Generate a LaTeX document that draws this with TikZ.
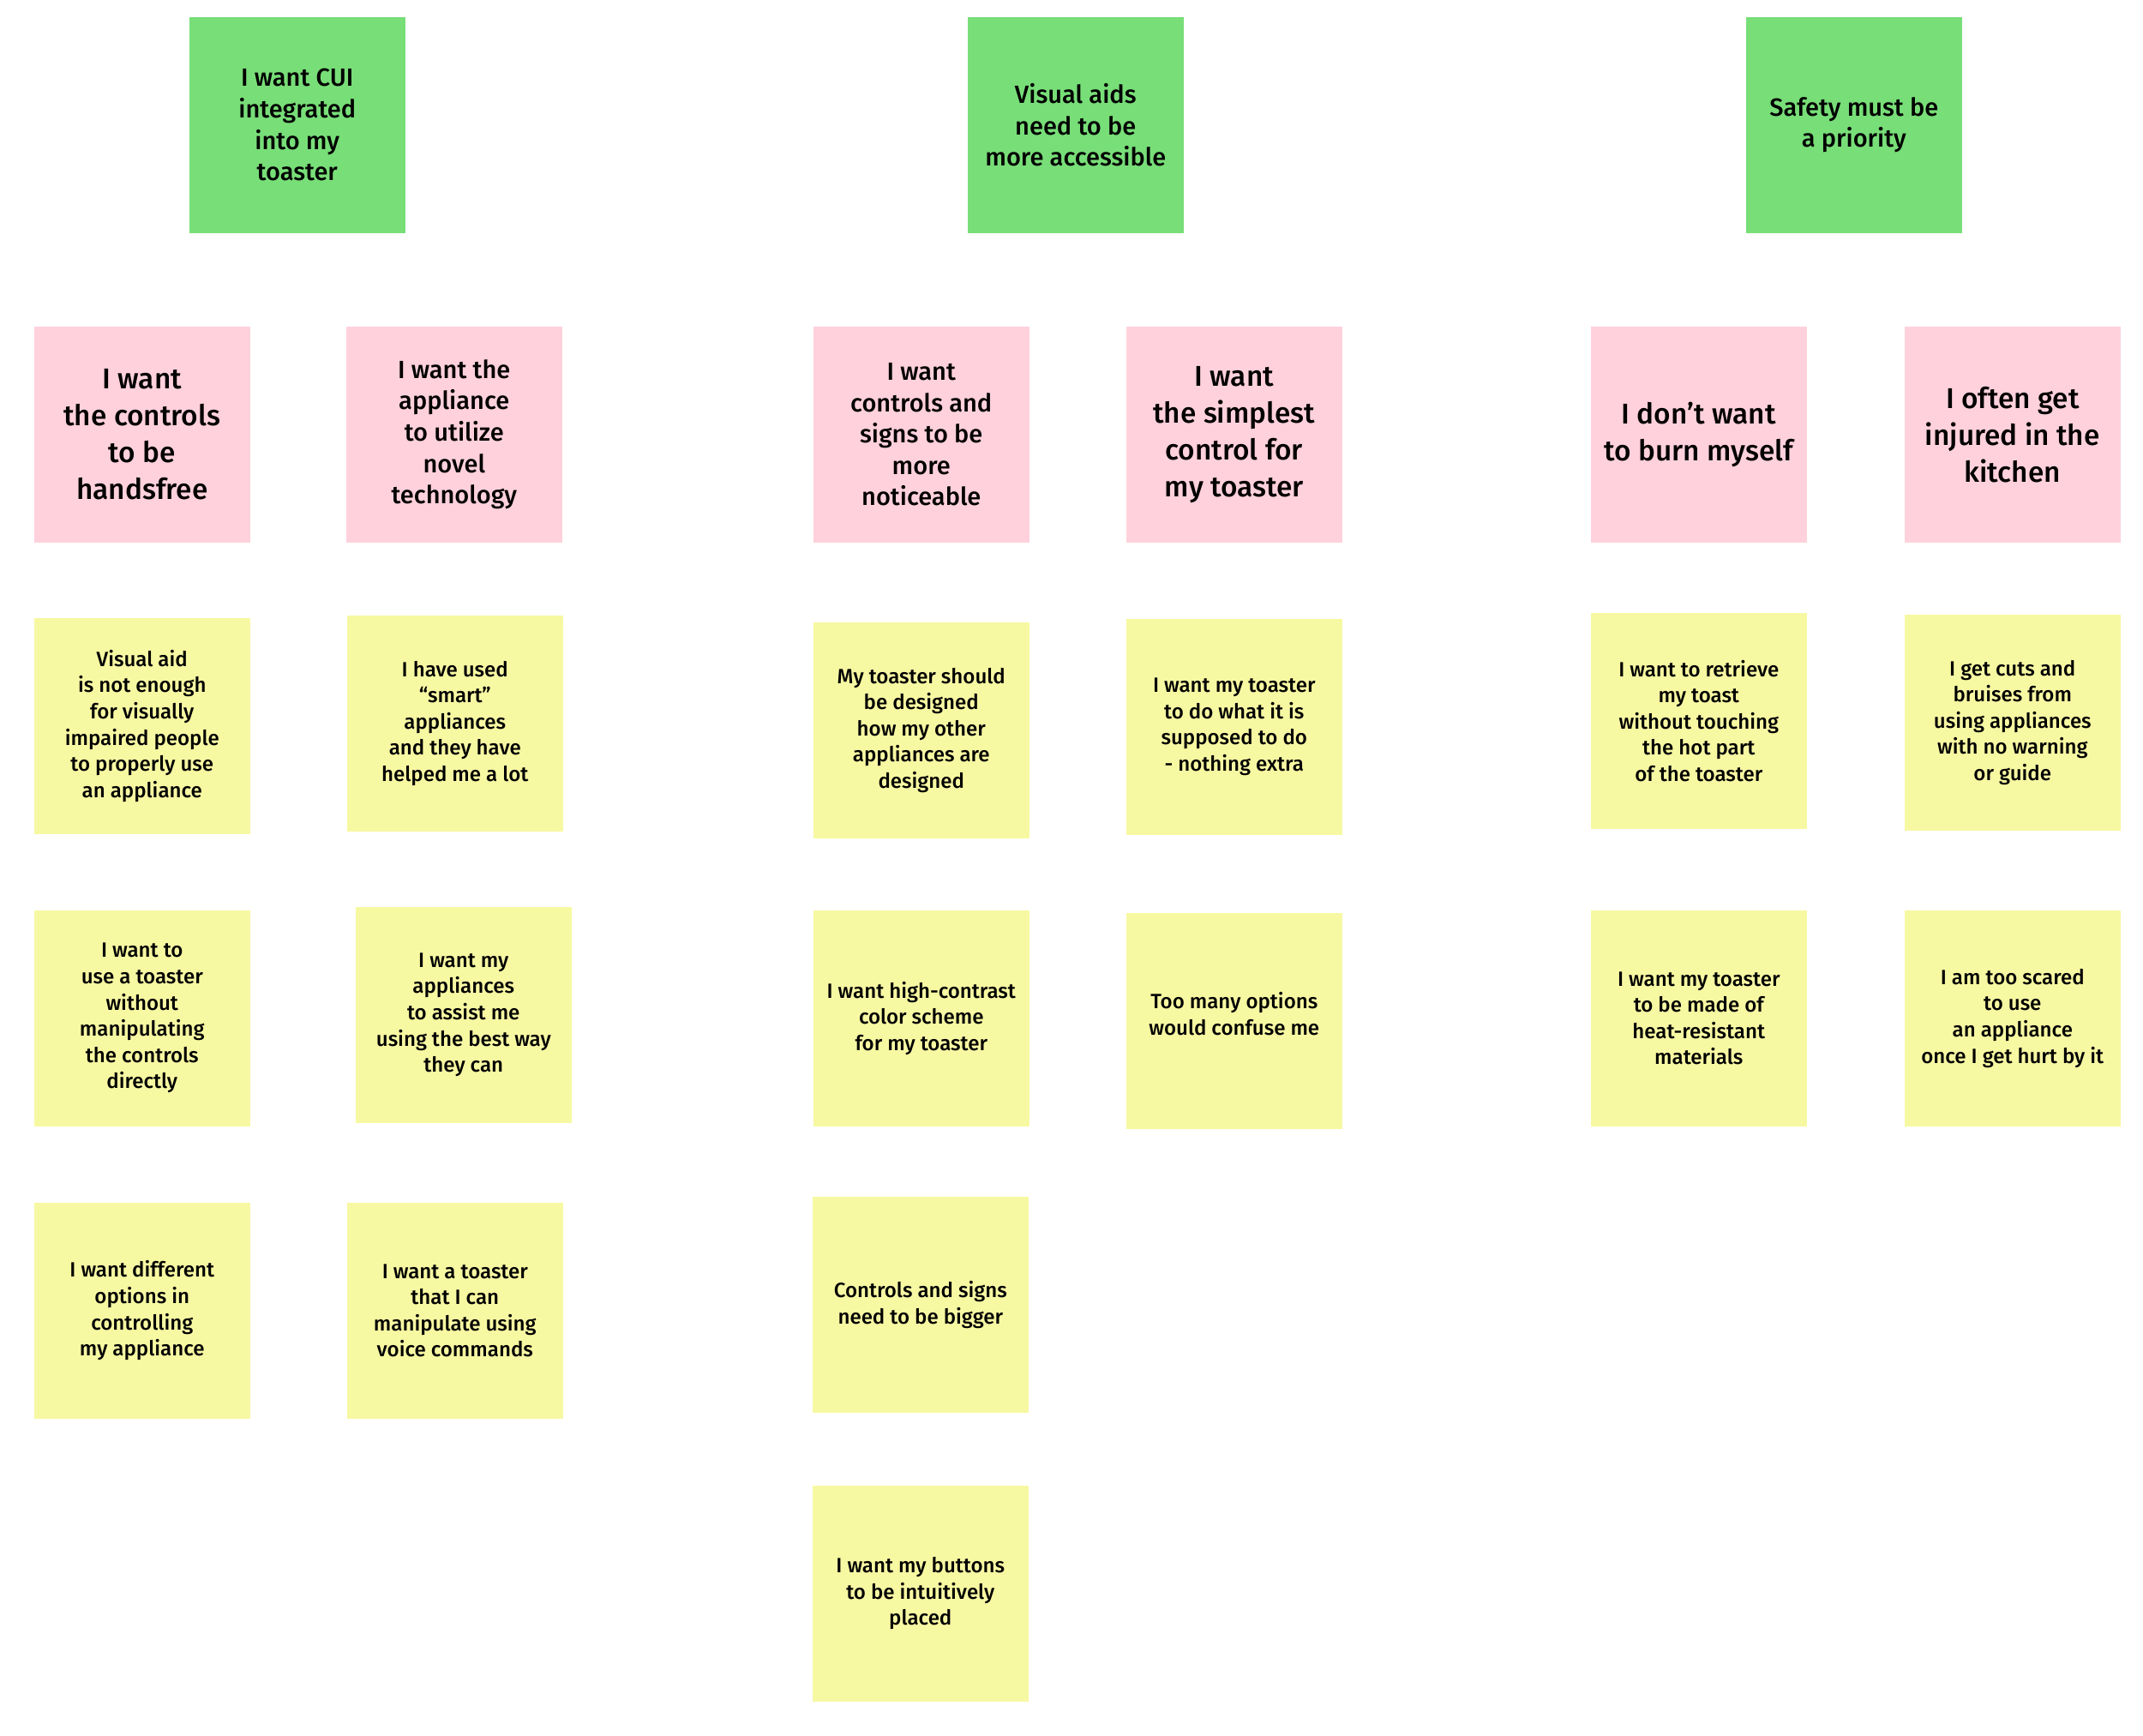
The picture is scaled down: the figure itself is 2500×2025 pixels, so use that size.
\documentclass[tikz,border=0pt]{standalone}
\usepackage{fontspec}
\setmainfont{Fira Sans Medium}
\definecolor{cardgreen}{RGB}{120,222,120}
\definecolor{cardpink}{RGB}{255,209,220}
\definecolor{cardyellow}{RGB}{247,248,162}
\begin{document}
\begin{tikzpicture}[x=0.01cm,y=-0.01cm,
  card/.style={minimum width=2.52cm, minimum height=2.52cm, inner sep=0pt,
    align=center, anchor=north west, text=black},
  theme/.style={card, fill=cardgreen, font=\fontsize{8.25}{10.4}\selectfont},
  needbig/.style={card, fill=cardpink, font=\fontsize{9.5}{12.2}\selectfont},
  needmid/.style={card, fill=cardpink, font=\fontsize{8.25}{10.4}\selectfont},
  quote/.style={card, fill=cardyellow, font=\fontsize{6.85}{8.7}\selectfont}]
\useasboundingbox (0,0) rectangle (2500,2025);
% themes
\node[theme] (g1) at (220,19) {I want CUI\\integrated\\into my\\toaster};
\node[theme] (g2) at (1128,19) {Visual aids\\need to be\\more accessible};
\node[theme] (g3) at (2036,19) {Safety must be\\a priority};
% needs
\node[needbig] (p1) at (39,380) {I want\\the controls\\to be\\handsfree};
\node[needmid] (p2) at (403,380) {I want the\\appliance\\to utilize\\novel\\technology};
\node[needmid] (p3) at (948,380) {I want\\controls and\\signs to be\\more\\noticeable};
\node[needbig] (p4) at (1313,380) {I want\\the simplest\\control for\\my toaster};
\node[needbig] (p5) at (1855,380) {I don’t want\\to burn myself};
\node[needbig] (p6) at (2221,380) {I often get\\injured in the\\kitchen};
% quotes row 1
\node[quote] (a1) at (39,720) {Visual aid\\is not enough\\for visually\\impaired people\\to properly use\\an appliance};
\node[quote] (b1) at (404,717) {I have used\\“smart”\\appliances\\and they have\\helped me a lot};
\node[quote] (c1) at (948,725) {My toaster should\\be designed\\how my other\\appliances are\\designed};
\node[quote] (d1) at (1313,721) {I want my toaster\\to do what it is\\supposed to do\\- nothing extra};
\node[quote] (e1) at (1855,714) {I want to retrieve\\my toast\\without touching\\the hot part\\of the toaster};
\node[quote] (f1) at (2221,716) {I get cuts and\\bruises from\\using appliances\\with no warning\\or guide};
% quotes row 2
\node[quote] (a2) at (39,1061) {I want to\\use a toaster\\without\\manipulating\\the controls\\directly};
\node[quote] (b2) at (414,1057) {I want my\\appliances\\to assist me\\using the best way\\they can};
\node[quote] (c2) at (948,1061) {I want high-contrast\\color scheme\\for my toaster};
\node[quote] (d2) at (1313,1064) {Too many options\\would confuse me\\[-4.1pt]};
\node[quote] (e2) at (1855,1061) {I want my toaster\\to be made of\\heat-resistant\\materials};
\node[quote] (f2) at (2221,1061) {I am too scared\\to use\\an appliance\\once I get hurt by it};
% quotes row 3 and 4
\node[quote] (a3) at (39,1402) {I want different\\options in\\controlling\\my appliance};
\node[quote] (b3) at (404,1402) {I want a toaster\\that I can\\manipulate using\\voice commands};
\node[quote] (c3) at (947,1395) {Controls and signs\\need to be bigger};
\node[quote] (c4) at (947,1732) {I want my buttons\\to be intuitively\\placed};
\end{tikzpicture}
\end{document}
